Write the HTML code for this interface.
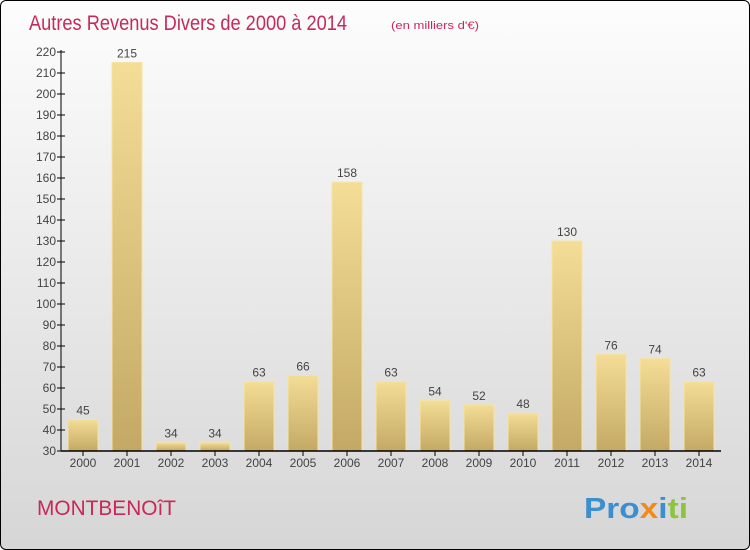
<!DOCTYPE html>
<html><head><meta charset="utf-8"><style>
body{margin:0;width:750px;height:550px;overflow:hidden}
#c{position:absolute;left:0;top:0;width:748px;height:548px;border:1px solid #000;border-radius:6px;background:linear-gradient(#fdfdfd,#d6d6d6);overflow:hidden}
</style></head><body>
<div id="c">
<svg id="s" width="750" height="550" style="position:absolute;left:0;top:0" font-family="Liberation Sans, sans-serif">
<defs><linearGradient id="bg" x1="0" y1="0" x2="0" y2="1"><stop offset="0" stop-color="#f4dd96"/><stop offset="1" stop-color="#c3a965"/></linearGradient></defs>
<text x="28" y="29" font-size="21" fill="#c8285a" textLength="318" lengthAdjust="spacingAndGlyphs">Autres Revenus Divers de 2000 à 2014</text>
<text x="390" y="28" font-size="11" fill="#c8285a" textLength="88" lengthAdjust="spacingAndGlyphs">(en milliers d'€)</text>
<text x="36" y="514" font-size="21" fill="#c8285a" textLength="139" lengthAdjust="spacingAndGlyphs">MONTBENOîT</text>
<text x="583" y="517" font-size="29" font-weight="bold" textLength="104" lengthAdjust="spacingAndGlyphs"><tspan fill="#3a8fd0">Pro</tspan><tspan fill="#f08a1c">x</tspan><tspan fill="#3a8fd0">i</tspan><tspan fill="#8cc43c">ti</tspan></text>
<g id="g"></g>
</svg></div>
<script>
const years=["2000","2001","2002","2003","2004","2005","2006","2007","2008","2009","2010","2011","2012","2013","2014"];
const values=[45,215,34,34,63,66,158,63,54,52,48,130,76,74,63];
const ticks=[30,40,50,60,70,80,90,100,110,120,130,140,150,160,170,180,190,200,210,220];
const NS="http://www.w3.org/2000/svg",g=document.getElementById('g');
const y=v=>450-(v-30)*(399/190), x=i=>82+i*44;
function mk(t,a,txt){const e=document.createElementNS(NS,t);for(const k in a)e.setAttribute(k,a[k]);if(txt!==undefined)e.textContent=txt;g.appendChild(e);return e;}
ticks.forEach(t=>{
 const l=mk('line',{x1:56,x2:64,y1:y(t),y2:y(t),stroke:'#000'});
 
 
 const tx=mk('text',{x:55,y:y(t)+4,'font-size':12,'text-anchor':'end',fill:'#444'},t);
 
 
});
values.forEach((v,i)=>{
 const r=mk('rect',{x:x(i)-15,y:y(v),width:30,height:450-y(v),fill:'url(#bg)',stroke:'#f6e3a6','stroke-width':1});
 
 
 const lb=mk('text',{x:x(i),y:y(v)-5,'font-size':12,'text-anchor':'middle',fill:'#444'},v);
 
 
 const tk=mk('line',{x1:x(i),x2:x(i),y1:450,y2:455,stroke:'#000'});
 
 
 const xl=mk('text',{x:x(i),y:466,'font-size':12,'text-anchor':'middle',fill:'#444'},years[i]);
 
 
});
const ya=mk('line',{x1:60,x2:60,y1:y(220)-2,y2:450,stroke:'#000'});


const xa=mk('line',{x1:60,x2:720,y1:450,y2:450,stroke:'#000','stroke-width':1.5});


</script>
</body></html>
